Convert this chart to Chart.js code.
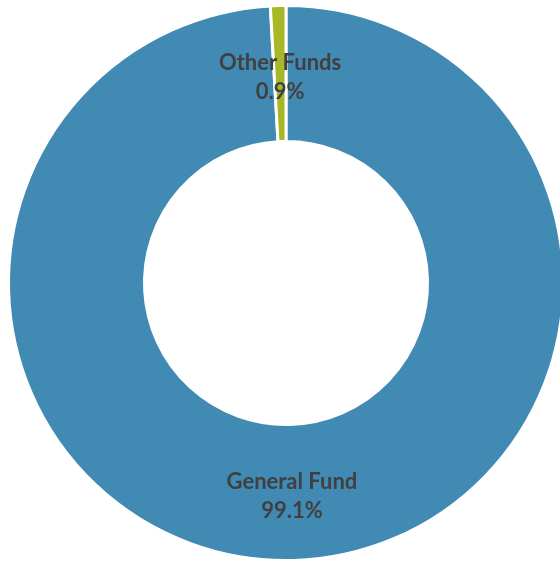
<!DOCTYPE html>
<html><head><meta charset="utf-8">
<script src="https://cdn.jsdelivr.net/npm/chart.js@4/dist/chart.umd.min.js"></script>
<style>html,body{margin:0;padding:0;background:#fff;overflow:hidden}#wrap{position:absolute;left:0;top:0;width:572px;height:566px}</style>
</head><body><div id="wrap"><canvas id="c" width="572" height="566"></canvas></div>
<script>
const categories = ["General Fund", "Other Funds"];
const values = [99.1, 0.9];
const percentLabels = ["99.1%", "0.9%"];
const colors = ["#418AB3", "#A6B727"];

const labelPlugin = {
  id: 'sliceLabels',
  afterDatasetsDraw(chart) {
    const ctx = chart.ctx;
    const meta = chart.getDatasetMeta(0);
    ctx.save();
    ctx.fillStyle = '#404040';
    ctx.font = 'bold 22px Lato';
    ctx.textAlign = 'center';
    ctx.textBaseline = 'middle';
    meta.data.forEach((arc, i) => {
      const p = arc.getCenterPoint();
      ctx.fillText(categories[i], p.x, p.y - 11);
      ctx.fillText(percentLabels[i], p.x, p.y + 18);
    });
    ctx.restore();
  }
};

new Chart(document.getElementById('c'), {
  type: 'doughnut',
  data: {
    labels: categories,
    datasets: [{
      data: values,
      backgroundColor: colors,
      borderColor: '#ffffff',
      borderWidth: 3,
      hoverOffset: 0
    }]
  },
  options: {
    responsive: false,
    animation: false,
    cutout: '51%',
    layout: { padding: 4 },
    plugins: { legend: { display: false }, tooltip: { enabled: false } }
  },
  plugins: [labelPlugin]
});
</script></body></html>
